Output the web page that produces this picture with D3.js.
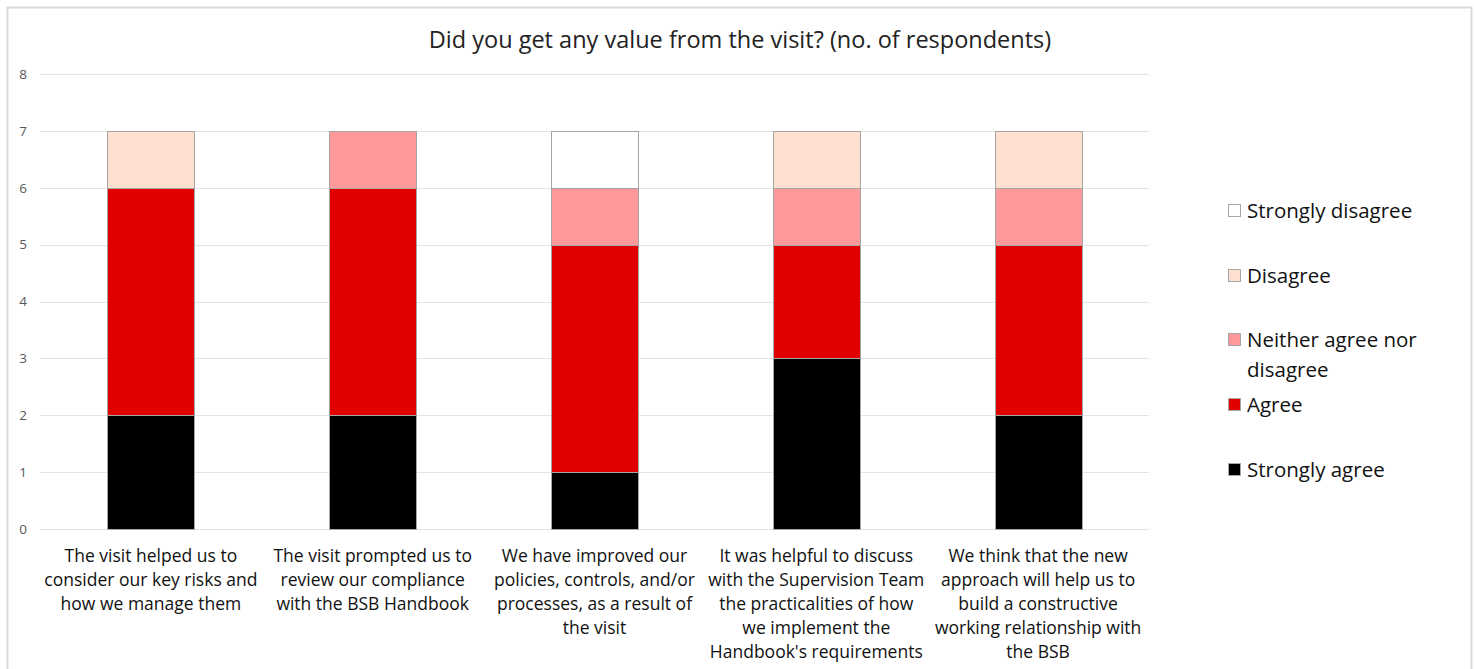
<!DOCTYPE html>
<html>
<head>
<meta charset="utf-8">
<script src="https://cdnjs.cloudflare.com/ajax/libs/d3/7.8.5/d3.min.js"></script>
<style>
  body { margin: 0; background: #fff; }
  text { font-family: "Open Sans", Lato, sans-serif; }
</style>
</head>
<body>
<div id="chart"></div>
<script>
// data
var categories = [
  ["The visit helped us to", "consider our key risks and", "how we manage them"],
  ["The visit prompted us to", "review our compliance", "with the BSB Handbook"],
  ["We have improved our", "policies, controls, and/or", "processes, as a result of", "the visit"],
  ["It was helpful to discuss", "with the Supervision Team", "the practicalities of how", "we implement the", "Handbook's requirements"],
  ["We think that the new", "approach will help us to", "build a constructive", "working relationship with", "the BSB"]
];
var seriesNames = ["Strongly agree", "Agree", "Neither agree nor disagree", "Disagree", "Strongly disagree"];
var stronglyAgree = [2, 2, 1, 3, 2];
var agree = [4, 4, 4, 2, 3];
var neither = [0, 1, 1, 1, 1];
var disagree = [1, 0, 0, 1, 1];
var stronglyDisagree = [0, 0, 1, 0, 0];
var yTicks = [0, 1, 2, 3, 4, 5, 6, 7, 8];

var colors = ["#000000", "#e00000", "#ff9999", "#fde0cf", "#ffffff"];
var allSeries = [stronglyAgree, agree, neither, disagree, stronglyDisagree];

var width = 1474, height = 669;
var svg = d3.select("#chart").append("svg")
  .attr("width", width)
  .attr("height", height);

// outer frame
svg.append("rect")
  .attr("x", 7.5).attr("y", 7.5)
  .attr("width", 1464).attr("height", 720)
  .attr("fill", "#fff")
  .attr("stroke", "#d9d9d9")
  .attr("stroke-width", 2);

// title
svg.append("text")
  .attr("x", 740).attr("y", 48)
  .attr("text-anchor", "middle")
  .style("font-size", "23.5px")
  .style("fill", "#222")
  .text("Did you get any value from the visit? (no. of respondents)");

var x = d3.scaleBand()
  .domain(d3.range(categories.length))
  .range([40, 1149])
  .paddingInner(0.607)
  .paddingOuter(0.3035);

var y = d3.scaleLinear().domain([0, 8]).range([529, 74]);

// gridlines
svg.append("g").selectAll("line")
  .data(yTicks)
  .enter().append("line")
  .attr("x1", 40).attr("x2", 1149)
  .attr("y1", d => Math.round(y(d)) + 0.5)
  .attr("y2", d => Math.round(y(d)) + 0.5)
  .attr("stroke", "#e3e3e3")
  .attr("stroke-width", 1);

// y axis labels
var yAxis = d3.axisLeft(y).tickValues(yTicks).tickSize(0).tickPadding(0);
var yg = svg.append("g")
  .attr("transform", "translate(27,0)")
  .call(yAxis);
yg.select(".domain").remove();
yg.selectAll("text")
  .style("font-size", "13.5px")
  .style("fill", "#595959")
  .style("font-family", "'Open Sans', sans-serif");

// stacked data
var rows = categories.map(function(c, i) {
  var r = { idx: i };
  seriesNames.forEach(function(s, j) { r[s] = allSeries[j][i]; });
  return r;
});
var stack = d3.stack().keys(seriesNames)(rows);

var layers = svg.append("g").selectAll("g")
  .data(stack)
  .enter().append("g")
  .attr("fill", (d, i) => colors[i]);

layers.selectAll("rect")
  .data(d => d.filter(p => p[1] - p[0] > 0))
  .enter().append("rect")
  .attr("x", d => Math.round(x(d.data.idx)) + 0.5)
  .attr("y", d => Math.round(y(d[1])) + 0.5)
  .attr("width", Math.round(x.bandwidth()))
  .attr("height", d => Math.round(y(d[0])) - Math.round(y(d[1])))
  .attr("stroke", "#a6a6a6")
  .attr("stroke-width", 1);

// category labels
var catG = svg.append("g").selectAll("text")
  .data(categories)
  .enter().append("text")
  .attr("text-anchor", "middle")
  .style("font-size", "17.5px")
  .style("fill", "#111");
catG.each(function(lines, i) {
  var t = d3.select(this);
  lines.forEach(function(l, k) {
    t.append("tspan")
      .attr("x", x(i) + x.bandwidth() / 2)
      .attr("y", 562 + k * 24)
      .text(l);
  });
});

// legend (top to bottom in reverse order)
var legendItems = [
  { name: ["Strongly disagree"], color: colors[4], y: 211 },
  { name: ["Disagree"], color: colors[3], y: 276 },
  { name: ["Neither agree nor", "disagree"], color: colors[2], y: 340 },
  { name: ["Agree"], color: colors[1], y: 405 },
  { name: ["Strongly agree"], color: colors[0], y: 470 }
];
var lg = svg.append("g").selectAll("g")
  .data(legendItems)
  .enter().append("g");
lg.append("rect")
  .attr("x", 1228.5)
  .attr("y", d => d.y - 6.5)
  .attr("width", 12).attr("height", 12)
  .attr("fill", d => d.color)
  .attr("stroke", "#a6a6a6");
lg.each(function(d) {
  var t = d3.select(this).append("text")
    .style("font-size", "20.5px")
    .style("fill", "#111");
  d.name.forEach(function(l, k) {
    t.append("tspan")
      .attr("x", 1247)
      .attr("y", d.y + 7 + k * 30)
      .text(l);
  });
});
</script>
</body>
</html>
